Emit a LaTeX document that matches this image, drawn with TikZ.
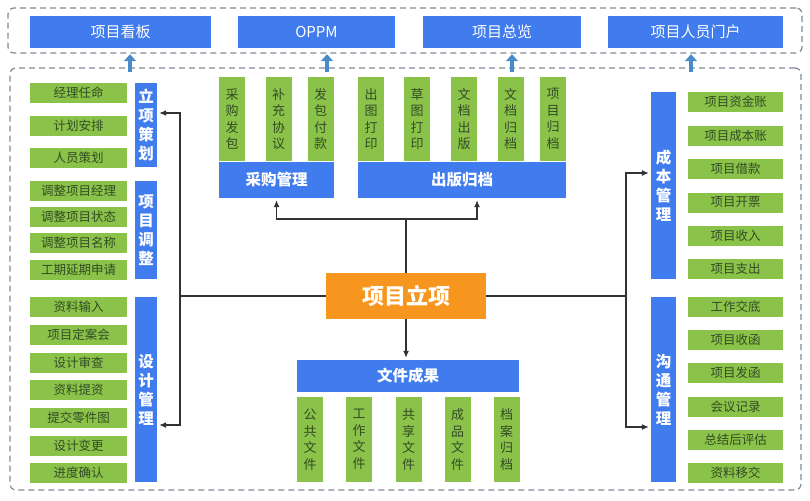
\documentclass[tikz,border=0pt]{standalone}
\usepackage{fontspec}
\setmainfont{Noto Sans CJK SC}
\usetikzlibrary{arrows.meta}
\definecolor{HeadBlue}{RGB}{64,124,238}
\definecolor{LeafGreen}{RGB}{139,195,74}
\definecolor{LeafText}{RGB}{50,76,36}
\definecolor{RootOrange}{RGB}{247,150,30}
\definecolor{FrameGray}{RGB}{128,138,150}
\definecolor{PortalArrow}{RGB}{74,138,200}
\definecolor{LinkColor}{RGB}{50,50,50}
\tikzset{
  portal/.style={rectangle, fill=HeadBlue, text=white, inner sep=0pt, minimum height=32pt, font=\fontsize{15}{18}\selectfont},
  group/.style={rectangle, fill=HeadBlue, text=white, inner sep=0pt, align=center, font=\fontsize{15.5}{19}\selectfont\bfseries},
  item/.style={rectangle, fill=LeafGreen, text=LeafText, inner sep=0pt, minimum height=20pt, font=\fontsize{12.5}{15}\selectfont},
  vitem/.style={rectangle, fill=LeafGreen, text=LeafText, inner sep=0pt, minimum width=26pt, align=center, font=\fontsize{13}{16.5}\selectfont},
  root/.style={rectangle, fill=RootOrange, text=white, inner sep=0pt, minimum width=160pt, minimum height=46pt, font=\fontsize{22}{26}\selectfont\bfseries}
}
\tikzset{
  frame/.style={draw=FrameGray, line width=1.2pt, dash pattern=on 6pt off 4pt, rounded corners=6pt, inner sep=0pt},
  line/.style={LinkColor, line width=1.2pt},
  link/.style={LinkColor, line width=1.2pt, -{Latex[length=7pt,width=6pt]}, shorten >=2pt},
  upload/.style={PortalArrow, line width=4.5pt, -{Triangle[length=7pt,width=12pt]}}
}
\begin{document}
\begin{tikzpicture}[x=1pt, y=-1pt]
  \useasboundingbox (0,0) rectangle (810,500);

  % Portal row on top
  \node[frame, minimum width=794pt, minimum height=45pt] (topframe) at (405,30.5) {};
  \node[portal, minimum width=181pt] (board) at (120.5,32) {项目看板};
  \node[portal, minimum width=157pt] (oppm) at (316.5,32) {OPPM};
  \node[portal, minimum width=158pt] (overview) at (502,32) {项目总览};
  \node[portal, minimum width=175pt] (people) at (695.5,32) {项目人员门户};

  % Main frame
  \node[frame, minimum width=791pt, minimum height=422pt] (mainframe) at (405.5,279) {};

  % Arrows up to the portals
  \draw[upload] ([xshift=9.5pt,yshift=-24pt]board.south) -- ([xshift=9.5pt,yshift=-6pt]board.south);
  \draw[upload] ([xshift=10.5pt,yshift=-24pt]oppm.south) -- ([xshift=10.5pt,yshift=-6pt]oppm.south);
  \draw[upload] ([xshift=10pt,yshift=-24pt]overview.south) -- ([xshift=10pt,yshift=-6pt]overview.south);
  \draw[upload] ([xshift=-4.5pt,yshift=-24pt]people.south) -- ([xshift=-4.5pt,yshift=-6pt]people.south);

  % Root
  \node[root] (root) at (406,296) {项目立项};

  % Left side: planning, adjusting, design
  \node[group, minimum width=22pt, minimum height=84pt] (plan) at (146,125) {立\\项\\策\\划};
  \node[group, minimum width=22pt, minimum height=98pt] (adjust) at (146,230) {项\\目\\调\\整};
  \node[group, minimum width=22pt, minimum height=185pt] (design) at (146,389.5) {设\\计\\管\\理};
  \node[item, minimum width=97pt] (plan-a) at (78.5,93) {经理任命};
  \node[item, minimum width=97pt] (plan-b) at (78.5,125.5) {计划安排};
  \node[item, minimum width=97pt] (plan-c) at (78.5,157.5) {人员策划};
  \node[item, minimum width=97pt] (adjust-a) at (78.5,190.5) {调整项目经理};
  \node[item, minimum width=97pt] (adjust-b) at (78.5,216.5) {调整项目状态};
  \node[item, minimum width=97pt] (adjust-c) at (78.5,243) {调整项目名称};
  \node[item, minimum width=97pt] (adjust-d) at (78.5,269.5) {工期延期申请};
  \node[item, minimum width=97pt] (design-a) at (78.5,307) {资料输入};
  \node[item, minimum width=97pt] (design-b) at (78.5,334.5) {项目定案会};
  \node[item, minimum width=97pt] (design-c) at (78.5,362.5) {设计审查};
  \node[item, minimum width=97pt] (design-d) at (78.5,389.5) {资料提资};
  \node[item, minimum width=97pt] (design-e) at (78.5,417.5) {提交零件图};
  \node[item, minimum width=97pt] (design-f) at (78.5,445.5) {设计变更};
  \node[item, minimum width=97pt] (design-g) at (78.5,472.5) {进度确认};

  % Right side: cost and communication
  \node[group, minimum width=25pt, minimum height=187pt] (cost) at (663.5,185.5) {成\\本\\管\\理};
  \node[group, minimum width=25pt, minimum height=185pt] (comm) at (663.5,389.5) {沟\\通\\管\\理};
  \node[item, minimum width=95pt] (cost-a) at (735.5,102) {项目资金账};
  \node[item, minimum width=95pt] (cost-b) at (735.5,135.5) {项目成本账};
  \node[item, minimum width=95pt] (cost-c) at (735.5,168.5) {项目借款};
  \node[item, minimum width=95pt] (cost-d) at (735.5,202.5) {项目开票};
  \node[item, minimum width=95pt] (cost-e) at (735.5,235.5) {项目收入};
  \node[item, minimum width=95pt] (cost-f) at (735.5,269) {项目支出};
  \node[item, minimum width=95pt] (comm-a) at (735.5,306.5) {工作交底};
  \node[item, minimum width=95pt] (comm-b) at (735.5,339.5) {项目收函};
  \node[item, minimum width=95pt] (comm-c) at (735.5,372.5) {项目发函};
  \node[item, minimum width=95pt] (comm-d) at (735.5,406.5) {会议记录};
  \node[item, minimum width=95pt] (comm-e) at (735.5,439.5) {总结后评估};
  \node[item, minimum width=95pt] (comm-f) at (735.5,472.5) {资料移交};

  % Top middle: purchasing and publishing
  \node[group, minimum width=115pt, minimum height=36pt] (buy) at (276.5,180) {采购管理};
  \node[group, minimum width=208pt, minimum height=36pt] (pub) at (462,180) {出版归档};
  \node[vitem, minimum height=84pt] (buy-a) at (232,119) {采\\购\\发\\包};
  \node[vitem, minimum height=84pt] (buy-b) at (278.5,119) {补\\充\\协\\议};
  \node[vitem, minimum height=84pt] (buy-c) at (320.5,119) {发\\包\\付\\款};
  \node[vitem, minimum height=84pt] (pub-a) at (371,119) {出\\图\\打\\印};
  \node[vitem, minimum height=84pt] (pub-b) at (417,119) {草\\图\\打\\印};
  \node[vitem, minimum height=84pt] (pub-c) at (464,119) {文\\档\\出\\版};
  \node[vitem, minimum height=84pt] (pub-d) at (510.5,119) {文\\档\\归\\档};
  \node[vitem, minimum height=84pt] (pub-e) at (553,119) {项\\目\\归\\档};

  % Bottom middle: document results
  \node[group, minimum width=222pt, minimum height=32pt] (result) at (408,376) {文件成果};
  \node[vitem, minimum height=85pt] (result-a) at (310,439.5) {公\\共\\文\\件};
  \node[vitem, minimum height=85pt] (result-b) at (359,439.5) {工\\作\\文\\件};
  \node[vitem, minimum height=85pt] (result-c) at (408.5,439.5) {共\\享\\文\\件};
  \node[vitem, minimum height=85pt] (result-d) at (457.5,439.5) {成\\品\\文\\件};
  \node[vitem, minimum height=85pt] (result-e) at (506.5,439.5) {档\\案\\归\\档};

  % Connectors from the root
  \coordinate (ljoint) at (180,296);
  \coordinate (rjoint) at (626,296);
  \coordinate (tjoint) at (406,219);
  \draw[line] (root.west) -- (ljoint);
  \draw[link] (ljoint) |- ([yshift=12pt]plan.east);
  \draw[link] (ljoint) |- ([yshift=-35.5pt]design.east);
  \draw[line] (root.east) -- (rjoint);
  \draw[link] (rjoint) |- ([yshift=12.5pt]cost.west);
  \draw[link] (rjoint) |- ([yshift=-37.5pt]comm.west);
  \draw[line] (root.north) -- (tjoint);
  \draw[link] (tjoint) -| (buy.south);
  \draw[link] (tjoint) -| ([xshift=15pt]pub.south);
  \draw[link] (root.south) -- (root.south |- result.north);
\end{tikzpicture}
\end{document}
